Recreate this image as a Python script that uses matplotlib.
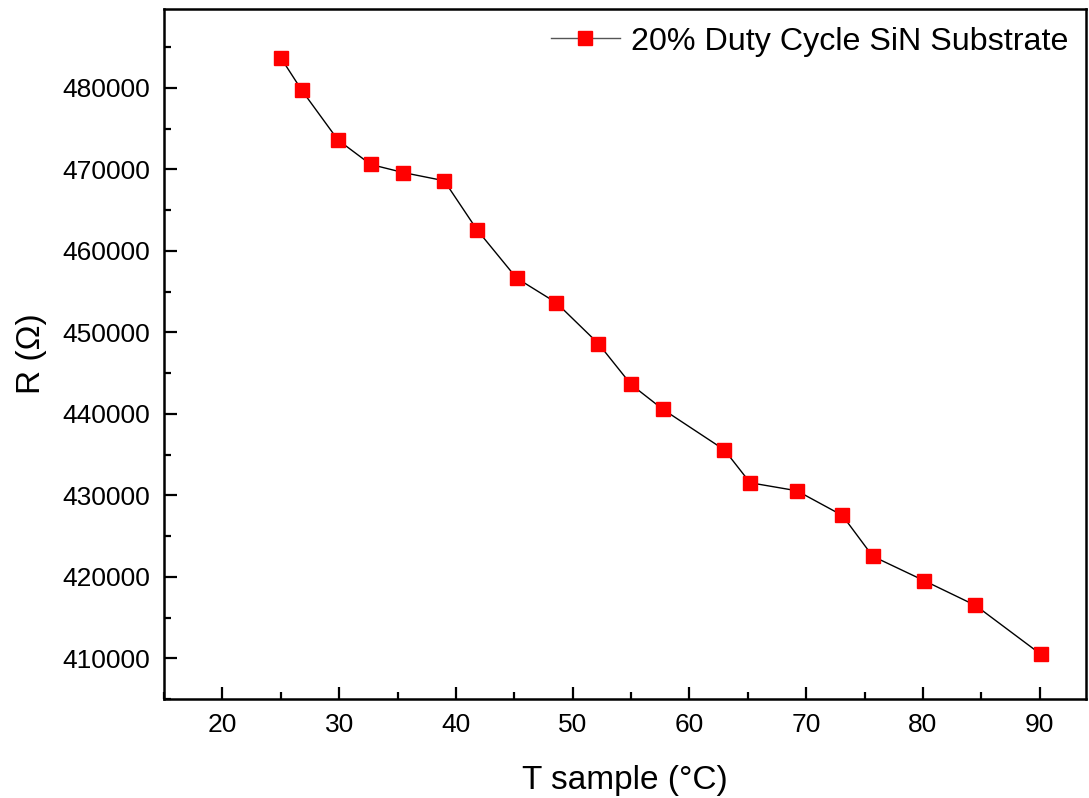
import matplotlib.pyplot as plt
from matplotlib.ticker import MultipleLocator

plt.rcParams['font.family'] = ['Liberation Sans', 'DejaVu Sans']

# temperature (deg C) and resistance (ohm)
t_sample = [25.0, 26.8, 29.9, 32.7, 35.5, 39.0, 41.8, 45.2, 48.6, 52.2,
            55.0, 57.7, 63.0, 65.2, 69.2, 73.1, 75.7, 80.1, 84.5, 90.1]
resistance = [483700, 479700, 473600, 470600, 469600, 468600, 462600, 456650,
              453630, 448620, 443600, 440580, 435570, 431540, 430560, 427530,
              422520, 419530, 416490, 410490]
series_label = "20% Duty Cycle SiN Substrate"

fig = plt.figure(figsize=(10.89, 7.98), dpi=100)
ax = fig.add_axes([0.1506, 0.124, 0.847, 0.865])

ax.plot(t_sample, resistance, color="black", lw=1.0, marker="s", ms=10.5,
        mfc="red", mec="red", label=series_label)

ax.set_xlim(15, 94)
ax.set_ylim(405000, 489700)
ax.xaxis.set_major_locator(MultipleLocator(10))
ax.xaxis.set_minor_locator(MultipleLocator(5))
ax.yaxis.set_major_locator(MultipleLocator(10000))
ax.yaxis.set_minor_locator(MultipleLocator(5000))

ax.tick_params(which="both", direction="in", labelsize=19, width=1.6)
ax.tick_params(which="major", length=9, pad=10)
ax.tick_params(which="minor", length=5)
for s in ax.spines.values():
    s.set_linewidth(1.8)

ax.set_xlabel("T sample (°C)", fontsize=24, labelpad=20)
ax.set_ylabel("R (Ω)", fontsize=24, labelpad=11)

leg = ax.legend(loc="upper right", frameon=False, fontsize=23.2,
                handlelength=2.15, handletextpad=0.35,
                borderaxespad=0.15)
for ln in leg.get_lines():
    ln.set_color("#555555")
    ln.set_markerfacecolor("red")
    ln.set_markeredgecolor("red")

fig.savefig("out.png", dpi=100)
